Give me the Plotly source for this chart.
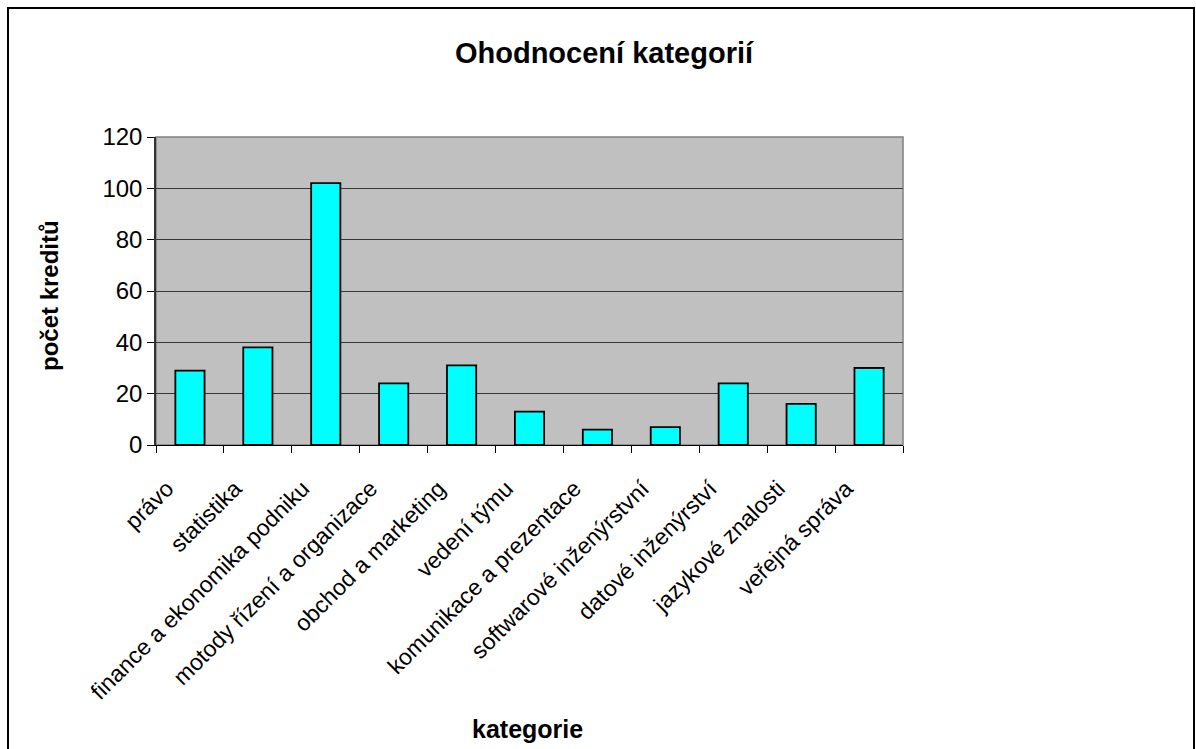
import plotly.graph_objects as go

kategorie = ['právo', 'statistika', 'finance a ekonomika podniku', 'motody řízení a organizace',
             'obchod a marketing', 'vedení týmu', 'komunikace a prezentace',
             'softwarové inženýrstvní', 'datové inženýrství', 'jazykové znalosti', 'veřejná správa']
kredity = [29, 38, 102, 24, 31, 13, 6, 7, 24, 16, 30]
y_ticks = [0, 20, 40, 60, 80, 100, 120]

W, H = 1196, 749
left, right, top, bottom = 156, 903, 137, 445
pw = right - left
ph = bottom - top


def px(x):
    return (x - left) / pw


def py(y):
    return (bottom - y) / ph


fig = go.Figure()
fig.add_trace(go.Bar(x=kategorie, y=kredity, width=0.43,
                     marker=dict(color='#00ffff', line=dict(color='black', width=1.8))))

# outer chart border
fig.add_shape(type='rect', xref='paper', yref='paper',
              x0=px(8), x1=px(1194), y0=py(760), y1=py(8),
              line=dict(color='black', width=2))
# plot area border
fig.add_shape(type='rect', xref='paper', yref='paper', x0=0, x1=1, y0=0, y1=1,
              line=dict(color='#808080', width=1.5), layer='below')

fig.add_annotation(text='<b>počet kreditů</b>', xref='paper', yref='paper',
                   x=px(49), y=py(296), xanchor='center', yanchor='middle',
                   textangle=-90, showarrow=False, font=dict(size=24))
fig.add_annotation(text='<b>kategorie</b>', xref='paper', yref='paper',
                   x=px(527), y=py(729), xanchor='center', yanchor='middle',
                   showarrow=False, font=dict(size=25))

fig.update_layout(
    width=W, height=H,
    margin=dict(l=left, r=W - right, t=top, b=H - bottom),
    paper_bgcolor='white', plot_bgcolor='#c0c0c0',
    font=dict(family='Arial, Liberation Sans', color='black'),
    title=dict(text='<b>Ohodnocení kategorií</b>', x=604 / W, xanchor='center',
               y=1 - 53 / H, yanchor='middle', font=dict(size=29)),
    showlegend=False,
)
fig.update_xaxes(tickangle=-45, tickfont=dict(size=23), tickson='boundaries',
                 ticks='outside', ticklen=7, tickcolor='black', showgrid=False,
                 ticklabelshift=-23, ticklabelstandoff=20,
                 showline=True, linecolor='black', linewidth=1)
fig.update_yaxes(range=[0, 120], tickvals=y_ticks, tickfont=dict(size=24),
                 ticks='outside', ticklen=7, tickcolor='black',
                 showgrid=True, gridcolor='#383838', gridwidth=1,
                 showline=True, linecolor='#333333', linewidth=1.5, zeroline=False)

fig.write_html("out.html", config={'displayModeBar': False},
               post_script="document.body.style.margin='0';")
